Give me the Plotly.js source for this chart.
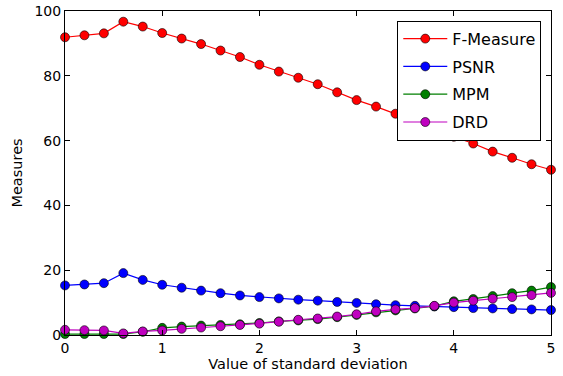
<!DOCTYPE html>
<html>
<head>
<meta charset="utf-8">
<script src="https://cdn.plot.ly/plotly-3.0.1.min.js"></script>
<style>html,body{margin:0;padding:0;background:#fff;}#chart{width:563px;height:376px;}</style>
</head>
<body>
<div id="chart"></div>
<script>
var sigma = [0,0.2,0.4,0.6,0.8,1.0,1.2,1.4,1.6,1.8,2.0,2.2,2.4,2.6,2.8,3.0,3.2,3.4,3.6,3.8,4.0,4.2,4.4,4.6,4.8,5.0];
var fMeasure = [91.9,92.5,93.1,96.7,95.2,93.2,91.5,89.8,87.8,85.8,83.4,81.3,79.4,77.4,74.9,72.5,70.5,68.3,66.0,63.6,61.2,59.1,56.6,54.7,52.7,51.0];
var psnr = [15.3,15.6,16.0,19.1,17.0,15.5,14.6,13.7,12.9,12.2,11.7,11.3,10.9,10.6,10.2,9.9,9.5,9.2,9.0,8.8,8.6,8.3,8.2,8.0,7.9,7.7];
var mpm = [0.3,0.3,0.3,0.3,1.0,2.2,2.6,2.9,3.1,3.3,3.7,4.2,4.5,4.9,5.5,6.2,7.0,7.6,8.2,8.9,10.4,11.1,12.0,12.9,13.7,14.8];
var drd = [1.6,1.5,1.4,0.5,1.1,1.4,1.9,2.3,2.7,3.1,3.5,4.1,4.7,5.1,5.7,6.4,7.3,7.9,8.3,9.0,10.0,10.6,11.2,11.7,12.3,13.0];
var names = ['F-Measure','PSNR','MPM','DRD'];
var colors = ['#ff0000','#0000ff','#007f00','#bf00bf'];
var series = [fMeasure, psnr, mpm, drd];

var traces = series.map(function(s, i){
  return {
    x: sigma, y: s, name: names[i], type: 'scatter', mode: 'lines+markers',
    legendgroup: 'g' + i,
    line: {color: colors[i], width: 1.2},
    marker: {color: colors[i], size: 9, line: {color: '#000', width: 0.6}},
    cliponaxis: false
  };
});

var axisCommon = {
  showgrid: false, zeroline: false, showline: true, linecolor: '#000', linewidth: 1,
  mirror: 'ticks', ticks: 'inside', ticklen: 5, tickcolor: '#000', tickwidth: 1,
  tickfont: {family: 'DejaVu Sans', size: 14, color: '#000'}
};

var layout = {
  width: 563, height: 376,
  margin: {l: 65, r: 12, t: 11, b: 41},
  paper_bgcolor: '#fff', plot_bgcolor: '#fff',
  showlegend: true,
  xaxis: Object.assign({}, axisCommon, {
    range: [0, 5], tickvals: [0,1,2,3,4,5], ticktext: ['0','1','2','3','4','5'],
    title: {text: 'Value of standard deviation', font: {family: 'DejaVu Sans', size: 14.5, color: '#000'}, standoff: 4}
  }),
  yaxis: Object.assign({}, axisCommon, {
    range: [0, 100], tickvals: [0,20,40,60,80,100],
    title: {text: 'Measures', font: {family: 'DejaVu Sans', size: 14.5, color: '#000'}, standoff: 8}
  }),
  legend: {
    x: 0.98, y: 0.97, xanchor: 'right', yanchor: 'top',
    bordercolor: '#000', borderwidth: 1, bgcolor: '#fff',
    font: {family: 'DejaVu Sans', size: 16, color: '#000'},
    traceorder: 'grouped', tracegroupgap: 4, itemwidth: 44
  }
};

Plotly.newPlot('chart', traces, layout, {displayModeBar: false, staticPlot: true});
</script>
</body>
</html>
